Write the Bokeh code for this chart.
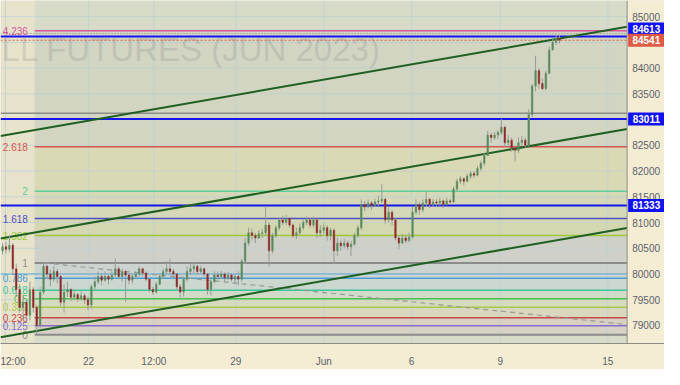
import numpy as np
from bokeh.plotting import figure
from bokeh.models import Range1d, FixedTicker
from bokeh.core.properties import value
from bokeh.embed import file_html
from bokeh.resources import INLINE

# ---------------- data ----------------
first_open = 80450
closes = [80530, 80480, 80560, 80100, 79700, 79350, 79450, 79200, 79700, 79350,
          79000, 79650, 80150, 80000, 79900, 80050, 79950, 79450, 79650, 79700,
          79550, 79600, 79520, 79580, 79500, 79400, 79750, 79850, 79950, 79880,
          79950, 79900, 79980, 80100, 79950, 80050, 79980, 79880, 79950, 80000,
          80100, 80020, 79900, 79700, 79650, 79800, 79950, 80050, 80100, 80050,
          80000, 79750, 79650, 79900, 80050, 80100, 80150, 80050, 80100, 80000,
          79700, 79850, 79980, 79950, 80000, 79920, 79980, 79900, 79950, 79900,
          80250, 80600, 80800, 80750, 80700, 80780, 80800, 80950, 80450, 80750,
          80900, 81050, 81000, 81080, 80950, 80750, 80800, 80900, 81000, 81050,
          80950, 81050, 80800, 80850, 80900, 80750, 80850, 80450, 80600, 80550,
          80600, 80530, 80580, 80750, 80900, 81350, 81300, 81380, 81330, 81400,
          81420, 81450, 81050, 81200, 81050, 80700, 80600, 80700, 80650, 80720,
          81200, 81350, 81250, 81380, 81450, 81350, 81400, 81380, 81420, 81350,
          81420, 81400, 81650, 81800, 81850, 81800, 81900, 81950, 81920, 82050,
          82150, 82300, 82700, 82650, 82700, 82750, 82850, 82550, 82600, 82450,
          82400, 82550, 82600, 82500, 83100, 83650, 83950, 83700, 83600, 83900,
          84350, 84500, 84580, 84541]
highs = [80600, 80620, 80760, 80600, 80200, 79800, 79600, 79500, 79850, 79750,
         79400, 79750, 80215, 80180, 80080, 80150, 80100, 79980, 79800, 79850,
         79720, 79700, 79640, 79660, 79620, 79560, 79800, 79950, 80050, 80020,
         80050, 80000, 80050, 80300, 80150, 80100, 80080, 80020, 80000, 80060,
         80150, 80120, 80050, 79920, 79750, 79850, 80000, 80100, 80250, 80300,
         80100, 80020, 79800, 79950, 80150, 80200, 80230, 80180, 80160, 80120,
         80020, 79900, 80050, 80050, 80060, 80030, 80040, 80020, 80000, 80050,
         80300, 80700, 80900, 80880, 80800, 80850, 80870, 81320, 81000, 80800,
         80950, 81100, 81130, 81150, 81100, 80980, 80900, 80980, 81050, 81120,
         81100, 81120, 81080, 80950, 80980, 80950, 80900, 80880, 80700, 80650,
         80680, 80650, 80640, 80800, 80950, 81450, 81420, 81450, 81420, 81460,
         81520, 81740, 81480, 81300, 81250, 81080, 80750, 80780, 80760, 80800,
         81300, 81450, 81400, 81450, 81600, 81480, 81460, 81450, 81480, 81450,
         81480, 81460, 81700, 81850, 81900, 81880, 81950, 82000, 82000, 82100,
         82200, 82350, 82780, 82750, 82760, 82800, 83010, 82880, 82700, 82650,
         82500, 82650, 82680, 82650, 83200, 83700, 84240, 84000, 83800, 83950,
         84420, 84580, 84650, 84640]
lows = [80380, 80400, 80420, 80000, 79550, 79250, 79100, 79050, 79100, 79250,
        78830, 78950, 79600, 79900, 79760, 79850, 79820, 79380, 79250, 79550,
        79480, 79500, 79460, 79480, 79420, 79300, 79330, 79700, 79800, 79780,
        79850, 79800, 79870, 79950, 79900, 79850, 79460, 79800, 79820, 79900,
        79950, 79950, 79850, 79650, 79600, 79620, 79780, 79900, 80000, 79980,
        79900, 79700, 79550, 79560, 79850, 79980, 80020, 79990, 80000, 79950,
        79600, 79580, 79820, 79880, 79900, 79850, 79880, 79850, 79800, 79780,
        79850, 80200, 80550, 80650, 80600, 80680, 80700, 80750, 80150, 80400,
        80700, 80850, 80950, 80950, 80900, 80700, 80680, 80750, 80850, 80950,
        80900, 80900, 80700, 80720, 80780, 80650, 80650, 80200, 80350, 80450,
        80500, 80470, 80350, 80550, 80700, 80850, 81220, 81280, 81250, 81300,
        81320, 81380, 80980, 81000, 80950, 80650, 80480, 80580, 80600, 80620,
        80680, 81150, 81150, 81200, 81300, 81280, 81300, 81300, 81320, 81280,
        81330, 81340, 81380, 81600, 81750, 81720, 81780, 81850, 81860, 81900,
        82000, 82100, 82300, 82550, 82600, 82620, 82700, 82480, 82450, 82380,
        82180, 82350, 82480, 82450, 82480, 83050, 83550, 83600, 83580, 83580,
        83880, 84350, 84450, 84480]

# Fibonacci retracement (anchors: low 0 and high 1)
fib_price_0 = 78821
fib_price_1 = 80215
fib_ratios = [0, 0.125, 0.236, 0.382, 0.5, 0.618, 0.786, 1, 1.382, 1.618, 2, 2.618, 4.236]
fib_labels = ["0", "0.125", "0.236", "0.382", "0.5", "0.618", "0.786", "1",
              "1.382", "1.618", "2", "2.618", "4.236"]
fib_colors = ["#8c8c8c", "#8a6cc8", "#c84848", "#a6c84c", "#4cbf4c", "#38c89c",
              "#4a9fd6", "#8c8c8c", "#9cc83a", "#4f4fc4", "#5cd09c", "#d9544f", "#d6559e"]
band_colors = ["#d6d2c6", "#d8d1c2", "#d9d7bd", "#d6dbbe", "#d1dbc8", "#ccd7cf",
               "#cdd3cf", "#cfd0c7", "#d5d7b0", "#d6d9b8", "#d9d9b5", "#d2d5c2"]

# horizontal price lines
blue_levels = [84613, 83011, 81333]
last_price = 84541
gray_level = 83123
dotted_level = 84669
light_blue_level = 80000

# trend channel (price at left edge, price at right edge of the chart area)
channel_left = [82681, 80690, 78770]
channel_right = [84803, 82815, 80895]
# dashed fib trend line
dash_start_price = 80215
dash_end_price = 79018

# axes
x_tick_pos = [0.86, 25.14, 44.29, 68.29, 94.0, 119.71, 145.71, 177.14]
x_tick_labels = ["12:00", "22", "12:00", "29", "Jun", "6", "9", "15"]
y_grid_ticks = [79000, 79500, 80000, 80500, 81000, 81500, 82000, 82500, 83000,
                83500, 84000, 84500, 85000]
y_axis_ticks = [79000, 79500, 80000, 80500, 81000, 81500, 82000, 82500,
                83500, 84000, 85000]
tag_values = [84613, 84541, 83011, 81333]
watermark = "LL FUTURES (JUN 2023)"

# ---------------- layout constants ----------------
X0, X1, XR = -0.6, 182.8, 193.74      # chart area ends at X1, price scale up to XR
Y0, Y1 = 78650, 85313
FIB_X0 = 9.4
FIB_LABEL_X = 7.4
DASH_X0 = 12.3
FONT = "Liberation Sans"
AXIS_BG = "#f4edd3"

p = figure(width=664, height=369, x_range=Range1d(X0, XR), y_range=Range1d(Y0, Y1),
           y_axis_location=None, toolbar_location=None, output_backend="svg",
           min_border_left=0, min_border_top=0, min_border_right=0, min_border_bottom=23,
           background_fill_color="#e7e3cb", border_fill_color=AXIS_BG,
           outline_line_color=None)
p.xgrid.visible = False

# background zone of the fib tool and its bands
p.quad(left=[FIB_X0], right=[X1], bottom=[Y0], top=[Y1], fill_color="#d7dcc9",
       line_color=None)
fib_vals = [fib_price_0 + r * (fib_price_1 - fib_price_0) for r in fib_ratios]
nb = len(band_colors)
p.quad(left=[FIB_X0] * nb, right=[X1] * nb, bottom=fib_vals[:-1], top=fib_vals[1:],
       fill_color=band_colors, line_color=None)

# grid
p.segment(x0=x_tick_pos, y0=[Y0] * len(x_tick_pos), x1=x_tick_pos,
          y1=[Y1] * len(x_tick_pos), line_color="#bfcfd2", line_alpha=0.8, line_width=1)
p.segment(x0=[X0] * len(y_grid_ticks), y0=y_grid_ticks, x1=[X1] * len(y_grid_ticks),
          y1=y_grid_ticks, line_color="#bfcfd2", line_alpha=0.8, line_width=1)

# watermark
p.text(x=[X0 + 0.3], y=[84356], text=[watermark], text_font=value(FONT),
       text_font_size="33px", text_align="left", text_baseline="alphabetic",
       text_color="#6e6e6e", text_alpha=0.2)

# fib lines & labels
for v, c, lab in zip(fib_vals, fib_colors, fib_labels):
    lw = 2 if lab in ("0", "1") else 1.5
    p.segment(x0=[FIB_X0], y0=[v], x1=[X1], y1=[v], line_color=c, line_width=lw)
p.text(x=[FIB_LABEL_X] * len(fib_vals), y=fib_vals, text=fib_labels,
       text_color=fib_colors, text_font=value(FONT), text_font_size="10px",
       text_align="right", text_baseline="middle")

# full-width horizontal lines
p.segment(x0=[X0], y0=[light_blue_level], x1=[X1], y1=[light_blue_level],
          line_color="#5aa8d4", line_width=1.2)
p.segment(x0=[X0], y0=[gray_level], x1=[X1], y1=[gray_level],
          line_color="#8c8c86", line_width=1.5)
p.segment(x0=[X0], y0=[dotted_level], x1=[X1], y1=[dotted_level],
          line_color="#8f9080", line_width=1, line_dash="1 2")
p.segment(x0=[X0] * 3, y0=blue_levels, x1=[X1] * 3, y1=blue_levels,
          line_color="#1515ee", line_width=2)
p.segment(x0=[X0], y0=[last_price], x1=[X1], y1=[last_price],
          line_color="#e0603e", line_width=1, line_dash="2 2")

# dashed fib trend line
p.segment(x0=[DASH_X0], y0=[dash_start_price], x1=[X1], y1=[dash_end_price],
          line_color="#9a9a94", line_width=1.2, line_dash="5 4")

# channel
p.segment(x0=[X0] * 3, y0=channel_left, x1=[X1] * 3, y1=channel_right,
          line_color="#1f5f22", line_width=2)

# candles
c = np.array(closes, dtype=float)
o = np.array([first_open] + closes[:-1], dtype=float)
h = np.array(highs, dtype=float)
l = np.array(lows, dtype=float)
idx = np.arange(len(c))
up = c >= o
dn = ~up
p.segment(x0=idx, y0=h, x1=idx, y1=l, line_color="#989c96", line_width=1)
p.vbar(x=idx[up], bottom=o[up], top=c[up], width=0.45, fill_color="#5a8a5c",
       line_color="#5a8a5c", line_width=0.5)
p.vbar(x=idx[dn], bottom=c[dn], top=o[dn], width=0.45, fill_color="#8e2b2b",
       line_color="#8e2b2b", line_width=0.5)

# price scale column (right)
p.quad(left=[X1], right=[XR], bottom=[Y0], top=[Y1], fill_color=AXIS_BG, line_color=None)
p.segment(x0=[X1], y0=[Y0], x1=[X1], y1=[Y1], line_color="#8d8d83", line_width=1)
p.text(x=[X1 + 1.5] * len(y_axis_ticks), y=y_axis_ticks,
       text=[str(t) for t in y_axis_ticks], text_font=value(FONT), text_font_size="10px",
       text_color="#5d606b", text_align="left", text_baseline="middle")

# price tags (84613 tag is lifted above the last-price tag, as the platform does)
tag_y = [84761, 84541, 83011, 81333]
tag_colors = ["#1111f5", "#de5a44", "#1111f5", "#1111f5"]
xc = (X1 + XR) / 2 + 0.15
p.rect(x=[xc] * 4, y=tag_y, width=XR - X1 - 0.3, height=[13] * 4, height_units="screen",
       fill_color=tag_colors, line_color=None)
p.text(x=[xc] * 4, y=tag_y, text=[str(v) for v in tag_values], text_font=value(FONT),
       text_font_size="10px", text_font_style="bold", text_color="white",
       text_align="center", text_baseline="middle")

# time axis
xa = p.xaxis[0]
xa.ticker = FixedTicker(ticks=x_tick_pos)
xa.major_label_overrides = {t: s for t, s in zip(x_tick_pos, x_tick_labels)}
xa.major_tick_line_color = None
xa.minor_tick_line_color = None
xa.axis_line_color = "#8d8d83"
xa.major_label_text_font = FONT
xa.major_label_text_font_size = "10px"
xa.major_label_text_color = "#5d606b"
xa.major_label_standoff = 6

open("out.html", "w").write(file_html(p, INLINE))
